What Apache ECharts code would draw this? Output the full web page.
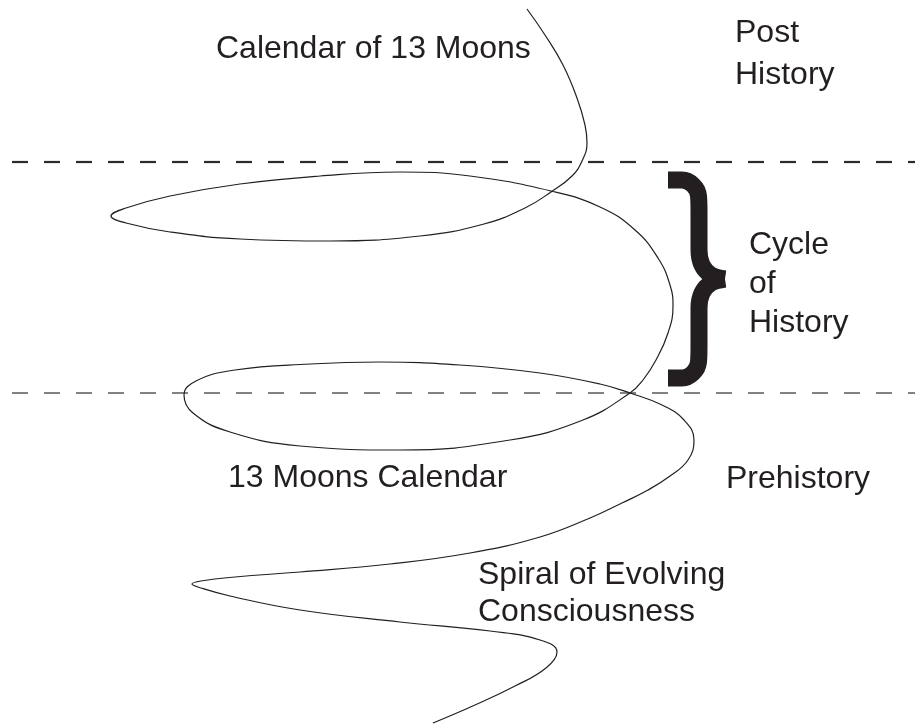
<!DOCTYPE html>
<html lang="en">
<head>
    <meta charset="UTF-8">
    <title>Spiral of Evolving Consciousness</title>
    <script type="text/javascript" src="https://cdn.jsdelivr.net/npm/echarts@6/dist/echarts.min.js"></script>
    <style>
        html, body { margin: 0; padding: 0; background: #ffffff; }
        #chart { width: 915px; height: 724px; }
    </style>
</head>
<body>
<div id="chart"></div>
<script type="text/javascript">
    // spiral path, top to bottom (x, y in page units, y grows downwards)
    var spiralPoints = [
        [527, 9], [545, 35], [563, 65], [577, 98], [585, 125], [587, 143],
        [582, 161], [572, 176], [551, 192], [525, 208], [484, 224], [420, 236],
        [330, 241], [240, 239], [170, 232], [126, 223], [111, 216], [126, 208],
        [170, 196], [240, 184], [320, 176], [400, 172], [470, 176], [551, 191],
        [600, 207], [635, 230], [658, 258], [670, 285], [673, 306], [668, 333],
        [656, 360], [643, 380], [630, 393], [583, 420], [510, 440], [400, 450],
        [300, 446], [230, 432], [193, 413], [184, 395], [196, 381], [235, 370],
        [310, 364], [380, 362], [460, 365], [540, 373], [600, 384], [630, 393],
        [662, 405], [684, 420], [694, 440], [688, 460], [670, 476], [648, 490],
        [622, 503], [590, 518], [540, 537], [470, 553], [390, 564], [300, 572],
        [235, 577], [201, 581], [192, 584], [201, 588], [230, 596], [300, 610],
        [400, 622], [490, 631], [540, 640], [557, 652], [546, 668], [515, 686],
        [475, 705], [433, 723]
    ];
    // the two period boundaries (dashed lines)
    var boundaryLevels = [162, 393];
    var boundaryFrom = 12;
    var boundaryTo = 915;
    // the curly brace marking one cycle of history, in two halves
    var braceUpper = [[668, 180], [682, 180], [693, 185], [698.5, 196], [699, 212], [699, 250], [702, 265], [711, 275], [725, 279]];
    var braceLower = [[725, 279], [711, 283], [702, 293], [699, 308], [699, 346], [698.5, 362], [693, 373], [682, 378], [668, 378]];
    // labels
    var labelTexts = ['Calendar of 13 Moons', 'Post', 'History', 'Cycle', 'of', 'History',
        '13 Moons Calendar', 'Prehistory', 'Spiral of Evolving', 'Consciousness'];

    var chart = echarts.init(document.getElementById('chart'), null, {renderer: 'canvas'});

    var ink = '#231f20';
    var fontSize = 32;
    var fontFamily = '"Liberation Sans", Arial, Helvetica, sans-serif';

    function label(text, x, y){
        return {
            type: 'text',
            x: x,
            y: y,
            silent: true,
            style: {
                text: text,
                fill: ink,
                fontSize: fontSize,
                fontFamily: fontFamily,
                align: 'left',
                verticalAlign: 'middle'
            }
        };
    }

    var boundaryStyles = [
        {width: 2.2, color: '#2a2a2a'},
        {width: 1.5, color: '#5a5a5a'}
    ];
    var series = [];
    for(var i = 0; i < boundaryLevels.length; i++){
        series.push({
            name: 'boundary' + i,
            type: 'line',
            data: [[boundaryFrom, boundaryLevels[i]], [boundaryTo, boundaryLevels[i]]],
            showSymbol: false,
            silent: true,
            lineStyle: {
                width: boundaryStyles[i].width,
                color: boundaryStyles[i].color,
                type: [16, 16],
                cap: 'butt'
            }
        });
    }
    series.push({
        name: 'spiral',
        type: 'line',
        data: spiralPoints,
        smooth: 0.45,
        showSymbol: false,
        silent: true,
        lineStyle: {width: 1.2, color: ink}
    });
    series.push({
        name: 'braceUpper',
        type: 'line',
        data: braceUpper,
        smooth: 0.35,
        showSymbol: false,
        silent: true,
        lineStyle: {width: 17, color: ink, cap: 'butt', join: 'round'}
    });
    series.push({
        name: 'braceLower',
        type: 'line',
        data: braceLower,
        smooth: 0.35,
        showSymbol: false,
        silent: true,
        lineStyle: {width: 17, color: ink, cap: 'butt', join: 'round'}
    });

    var option = {
        animation: false,
        backgroundColor: '#ffffff',
        grid: {left: 0, right: 0, top: 0, bottom: 0},
        xAxis: {type: 'value', min: 0, max: 915, show: false},
        yAxis: {type: 'value', min: 0, max: 724, inverse: true, show: false},
        series: series,
        graphic: [
            label(labelTexts[0], 216, 49),
            label(labelTexts[1], 735, 33),
            label(labelTexts[2], 735, 75),
            label(labelTexts[3], 749, 245),
            label(labelTexts[4], 749, 284),
            label(labelTexts[5], 749, 323),
            label(labelTexts[6], 228, 478),
            label(labelTexts[7], 726, 479),
            label(labelTexts[8], 478, 575),
            label(labelTexts[9], 478, 612)
        ]
    };
    chart.setOption(option);
</script>
</body>
</html>
